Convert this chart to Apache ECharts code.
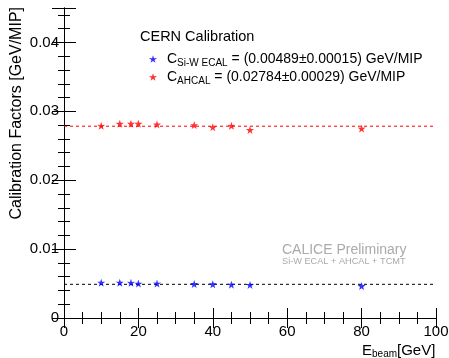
<!DOCTYPE html>
<html><head><meta charset="utf-8">
<script src="https://cdn.jsdelivr.net/npm/echarts@6/dist/echarts.min.js"></script>
<style>html,body{margin:0;padding:0;background:#fff}#c{width:449px;height:358px}</style>
</head><body><div id="c"></div>
<script>
const energies = [10, 15, 18, 20, 25, 35, 40, 45, 50, 80];
const ecalValues = [0.00513, 0.00513, 0.00511, 0.00499, 0.00500, 0.00494, 0.00490, 0.00484, 0.00480, 0.00465];
const ahcalValues = [0.0279, 0.0282, 0.0282, 0.0282, 0.0281, 0.0280, 0.0277, 0.0279, 0.0273, 0.0275];
const ecalFit = 0.00489;
const ahcalFit = 0.02784;
const fitRange = [0, 100];
const ecalLabel = ['C', 'Si-W ECAL', ' = (0.00489±0.00015) GeV/MIP'];
const ahcalLabel = ['C', 'AHCAL', ' = (0.02784±0.00029) GeV/MIP'];

const star = 'path://M50,0 L61.8,35.1 L97.6,34.5 L69,56.1 L79.4,90.5 L50,70 L20.6,90.5 L31,56.1 L2.4,34.5 L38.2,35.1 Z';
const FONT = 'Liberation Sans, Arial, sans-serif';

const chart = echarts.init(document.getElementById('c'), null, {renderer: 'canvas'});
const frameLine = {show: true, lineStyle: {color: '#000', width: 1}};
const option = {
  animation: false,
  grid: {left: 64, right: 13, top: 8, bottom: 40, containLabel: false, outerBoundsMode: 'none'},
  xAxis: [
    {type: 'value', min: 0, max: 100, interval: 20, position: 'bottom',
     axisLine: frameLine, splitLine: {show: false},
     axisTick: {show: true, inside: true, length: 10, lineStyle: {color: '#000'}},
     minorTick: {show: true, splitNumber: 4, length: 6, lineStyle: {color: '#000'}},
     axisLabel: {color: '#000', fontSize: 15, fontFamily: FONT, margin: 6}},
    {type: 'value', min: 0, max: 100, interval: 20, position: 'top',
     axisLine: frameLine, splitLine: {show: false},
     axisTick: {show: true, inside: true, length: 10, lineStyle: {color: '#000'}},
     minorTick: {show: true, splitNumber: 4, length: 6, lineStyle: {color: '#000'}},
     axisLabel: {show: false}}
  ],
  yAxis: [
    {type: 'value', min: 0, max: 0.045, interval: 0.01, position: 'left',
     axisLine: frameLine, splitLine: {show: false},
     axisTick: {show: true, inside: true, length: 12, lineStyle: {color: '#000'}},
     minorTick: {show: true, splitNumber: 5, length: 6, lineStyle: {color: '#000'}},
     axisLabel: {color: '#000', fontSize: 15, fontFamily: FONT, margin: 5, showMaxLabel: false,
       formatter: v => v === 0 ? '0' : v.toFixed(2)}},
    {type: 'value', min: 0, max: 0.045, interval: 0.01, position: 'right',
     axisLine: frameLine, splitLine: {show: false},
     axisTick: {show: true, inside: true, length: 12, lineStyle: {color: '#000'}},
     minorTick: {show: true, splitNumber: 5, length: 6, lineStyle: {color: '#000'}},
     axisLabel: {show: false}}
  ],
  legend: {
    show: true, orient: 'vertical', left: 144, top: 47, itemGap: 2,
    itemWidth: 8, itemHeight: 8,
    data: [{name: 'ecal', icon: star}, {name: 'ahcal', icon: star}],
    formatter: n => {
      const l = n === 'ecal' ? ecalLabel : ahcalLabel;
      return '{n|' + l[0] + '}{s|' + l[1] + '}{n|' + l[2] + '}';
    },
    textStyle: {padding: [0, 0, 0, 5], rich: {
      n: {fontSize: 14, fontFamily: FONT, color: '#000'},
      s: {fontSize: 10, fontFamily: FONT, color: '#000', verticalAlign: 'bottom', padding: [8, 0, 0, 0]}
    }}
  },
  series: [
    {name: 'ecalFit', type: 'line', data: fitRange.map(x => [x, ecalFit]), symbol: 'none',
     lineStyle: {color: '#000', width: 1, type: [3, 3]}, silent: true, z: 1},
    {name: 'ahcalFit', type: 'line', data: fitRange.map(x => [x, ahcalFit]), symbol: 'none',
     lineStyle: {color: '#ff0000', width: 1, type: [3, 3]}, silent: true, z: 1},
    {name: 'ecal', type: 'scatter', data: energies.map((e, i) => [e, ecalValues[i]]),
     symbol: star, symbolSize: 8, itemStyle: {color: '#0000ff'}, z: 3},
    {name: 'ahcal', type: 'scatter', data: energies.map((e, i) => [e, ahcalValues[i]]),
     symbol: star, symbolSize: 8, itemStyle: {color: '#ff0000'}, z: 3}
  ],
  graphic: [
    {type: 'text', left: 140, top: 29, style: {text: 'CERN Calibration', font: '14.5px ' + FONT, fill: '#000'}},
    {type: 'text', left: 282, top: 243, style: {text: 'CALICE Preliminary', font: '14px ' + FONT, fill: '#aaaaaa'}},
    {type: 'text', left: 282, top: 257, style: {text: 'Si-W ECAL + AHCAL + TCMT', font: '9.2px ' + FONT, fill: '#aaaaaa'}},
    {type: 'text', left: 362, top: 343, style: {
      rich: {n: {fontSize: 15, fontFamily: FONT, fill: '#000'}, s: {fontSize: 10, fontFamily: FONT, fill: '#000', padding: [8, 0, 0, 0]}},
      text: '{n|E}{s|beam}{n|[GeV]}'}},
    {type: 'text', rotation: Math.PI / 2, left: 9, top: 7, style: {text: 'Calibration Factors [GeV/MIP]', font: '16px ' + FONT, fill: '#000'}}
  ]
};
chart.setOption(option);
</script></body></html>
